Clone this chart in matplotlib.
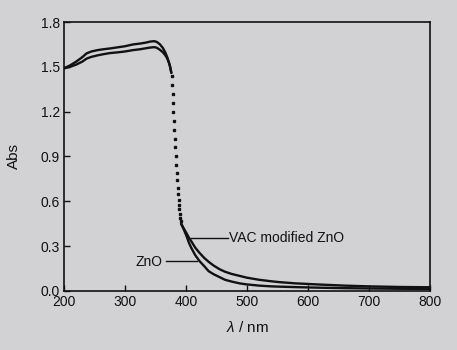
import matplotlib
matplotlib.use("Agg")
import matplotlib.pyplot as plt

plt.rcParams['font.family'] = ['Liberation Sans', 'DejaVu Sans']
plt.rcParams['mathtext.fontset'] = 'custom'
plt.rcParams['mathtext.it'] = 'Liberation Sans:italic'
plt.rcParams['mathtext.rm'] = 'Liberation Sans'

# Absorption plateau (200-376 nm)
plateau_nm = [200, 205, 210, 220, 230, 237, 245, 255, 265, 275, 290, 300, 313,
              325, 335, 341, 348, 352, 357, 362, 366, 369, 372, 374, 376]
vac_plateau = [1.49, 1.50, 1.51, 1.535, 1.565, 1.59, 1.603, 1.612, 1.618, 1.623, 1.632,
               1.638, 1.65, 1.656, 1.663, 1.669, 1.672, 1.667, 1.652, 1.627, 1.597,
               1.567, 1.53, 1.50, 1.46]
zno_plateau = [1.49, 1.495, 1.50, 1.515, 1.535, 1.555, 1.567, 1.577, 1.585, 1.592, 1.598,
               1.603, 1.612, 1.618, 1.625, 1.629, 1.632, 1.628, 1.615, 1.598, 1.578,
               1.558, 1.528, 1.50, 1.46]

# Absorption edge (sparse sampled points, common to both samples)
edge_nm = [376.5, 377.2, 377.9, 378.6, 379.3, 380.0, 380.7, 381.4, 382.2, 383.0,
           383.8, 384.6, 385.3, 386.2, 387.0, 387.8, 388.5, 389.2, 389.9, 390.6, 391.4]
edge_abs = [1.44, 1.38, 1.32, 1.26, 1.20, 1.14, 1.08, 1.02, 0.96, 0.90, 0.84, 0.79,
            0.74, 0.69, 0.65, 0.61, 0.575, 0.545, 0.515, 0.49, 0.465]

# Tail beyond the edge (392-800 nm)
tail_nm = [392, 396, 401, 405, 409, 415, 422, 430, 437, 445, 455, 464, 475, 488, 500,
           520, 540, 554, 580, 620, 660, 700, 750, 800]
vac_tail = [0.45, 0.42, 0.385, 0.355, 0.33, 0.29, 0.255, 0.22, 0.195, 0.17, 0.145, 0.128,
            0.113, 0.10, 0.088, 0.074, 0.064, 0.058, 0.05, 0.042, 0.035, 0.03,
            0.026, 0.024]
zno_tail = [0.45, 0.415, 0.365, 0.32, 0.285, 0.24, 0.20, 0.165, 0.132, 0.112, 0.092, 0.074,
            0.062, 0.05, 0.043, 0.035, 0.03, 0.028, 0.025, 0.021, 0.018, 0.016,
            0.014, 0.013]

x_ticks = [200, 300, 400, 500, 600, 700, 800]
y_ticks = [0.0, 0.3, 0.6, 0.9, 1.2, 1.5, 1.8]

bg = '#d2d2d4'
ink = '#111111'

fig = plt.figure(figsize=(4.57, 3.5), dpi=100, facecolor=bg)
ax = fig.add_axes([0.140, 0.169, 0.801, 0.768], facecolor=bg)

for ys in (vac_plateau, zno_plateau):
    ax.plot(plateau_nm, ys, color=ink, lw=1.7, solid_capstyle='round')
for ys in (vac_tail, zno_tail):
    ax.plot(tail_nm, ys, color=ink, lw=1.7, solid_capstyle='round')
ax.plot(edge_nm, edge_abs, ls='none', marker='s', ms=1.7, color=ink, mec=ink)

# Curve labels with leader lines
ax.plot([409, 468.5], [0.356, 0.356], color=ink, lw=1.0)
ax.text(471, 0.356, 'VAC modified ZnO', fontsize=10, va='center', ha='left', color=ink)
ax.plot([366.5, 417.5], [0.20, 0.20], color=ink, lw=1.0)
ax.text(361, 0.19, 'ZnO', fontsize=10, va='center', ha='right', color=ink)

ax.set_xlim(200, 800)
ax.set_ylim(0.0, 1.8)
ax.set_xticks(x_ticks)
ax.set_xticklabels([str(v) for v in x_ticks])
ax.set_yticks(y_ticks)
ax.set_yticklabels([f'{v:.1f}' for v in y_ticks])
ax.tick_params(direction='in', length=4, width=1.0, labelsize=10, pad=3, colors=ink)
for s in ax.spines.values():
    s.set_linewidth(1.2)
    s.set_color(ink)

ax.set_xlabel(r'$\lambda$ / nm', fontsize=11, labelpad=8, color=ink)
ax.set_ylabel('Abs', fontsize=11, labelpad=14, color=ink)

fig.savefig('out.png', dpi=100, facecolor=bg)
